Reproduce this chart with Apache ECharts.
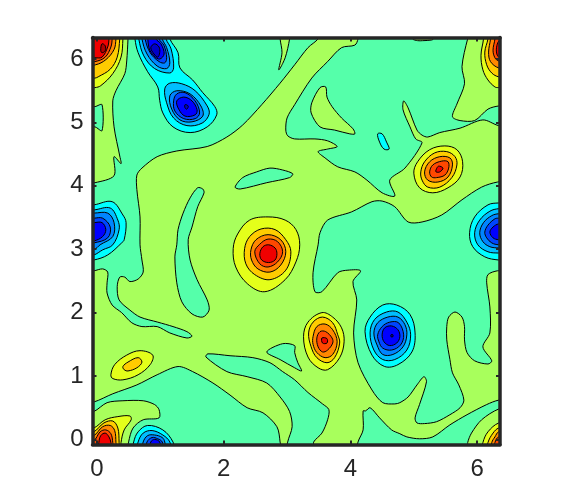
<!DOCTYPE html>
<html>
<head>
<meta charset="utf-8">
<style>html,body{margin:0;background:#fff}#chart{width:573px;height:500px}</style>
<script src="https://cdn.jsdelivr.net/npm/echarts@6/dist/echarts.min.js"></script>
</head>
<body>
<div id="chart"></div>
<script>
const xTicks = [0, 2, 4, 6];
const yTicks = [0, 1, 2, 3, 4, 5, 6];

// aqua areas on the lime background, [x, y]
const aquaLeft = [[.49,6.46],[3.53,6.46],[3.49,6.32],[3.33,6.18],[3.12,5.91],[2.89,5.62],[2.60,5.28],[2.30,4.96],[2.05,4.77],[1.74,4.62],[1.26,4.55],[.95,4.46],[.71,4.28],[.63,4.17],[.63,3.94],[.68,3.51],[.68,3.07],[.71,2.83],[.73,2.64],[.65,2.53],[.52,2.49],[.44,2.56],[.36,2.56],[.32,2.41],[.35,2.20],[.52,2.04],[.68,1.93],[.96,1.85],[1.20,1.78],[1.42,1.70],[1.50,1.63],[1.42,1.60],[1.15,1.68],[.95,1.78],[.71,1.78],[.55,1.84],[.39,2.00],[.24,2.12],[.16,2.31],[.16,2.47],[.17,2.64],[.09,2.69],[-.05,2.66],[-.19,2.66],[-.19,4.05],[-.03,4.05],[.27,4.16],[.27,4.46],[.38,4.35],[.36,4.47],[.27,4.93],[.25,5.34],[.30,5.50],[.44,5.77],[.47,5.97],[.49,6.32]];
const aquaNotch = [[-.19,5.25],[-.03,5.25],[.08,5.28],[.08,4.87],[-.03,4.93],[-.19,4.93]];
const aquaTop = [[4.12,6.46],[5.91,6.46],[5.85,6.32],[5.76,5.88],[5.80,5.61],[5.68,5.29],[5.61,5.09],[5.73,5.03],[5.96,5.03],[6.17,5.21],[6.34,5.26],[6.51,5.26],[6.51,4.96],[6.34,4.95],[6.09,5.04],[5.73,4.91],[5.41,4.84],[5.22,4.77],[5.13,4.80],[5.05,4.88],[4.91,5.23],[4.84,5.34],[4.83,5.20],[4.94,4.93],[5.03,4.74],[5.13,4.68],[4.86,4.28],[4.62,4.09],[4.70,3.84],[4.50,3.89],[4.26,4.09],[4.07,4.22],[3.80,4.30],[3.60,4.44],[3.49,4.54],[3.64,4.58],[3.79,4.62],[3.64,4.71],[3.44,4.74],[3.12,4.74],[3.01,4.79],[2.98,4.88],[3.00,5.07],[3.12,5.28],[3.39,5.70],[3.64,5.96],[3.86,6.18],[4.07,6.22],[4.12,6.32]];
const aquaRight = [[3.49,3.07],[3.52,3.26],[3.64,3.46],[4.02,3.59],[4.34,3.75],[4.50,3.76],[4.70,3.67],[4.91,3.43],[5.13,3.43],[5.44,3.54],[5.76,3.78],[6.07,3.98],[6.32,4.06],[6.51,4.06],[6.51,2.66],[6.32,2.66],[6.17,2.60],[6.15,2.47],[6.20,2.09],[6.20,1.68],[6.09,1.46],[6.23,1.24],[6.17,1.19],[5.96,1.24],[5.84,1.37],[5.80,1.57],[5.80,1.78],[5.76,1.93],[5.65,2.01],[5.55,1.93],[5.52,1.78],[5.52,1.57],[5.57,1.26],[5.61,1.05],[5.71,.86],[5.79,.62],[5.73,.50],[5.57,.39],[5.36,.28],[5.17,.25],[5.05,.26],[5.02,.34],[5.09,.55],[5.20,.91],[5.16,.99],[5.05,.86],[4.91,.67],[4.78,.58],[4.70,.56],[4.51,.58],[4.34,.78],[4.12,1.21],[4.05,1.68],[4.10,2.20],[4.04,2.49],[4.16,2.66],[3.96,2.67],[3.80,2.63],[3.55,2.33],[3.44,2.33],[3.41,2.63]];
const aquaBottomRight = [[4.12,-.16],[4.12,-.04],[4.20,.15],[4.20,.45],[4.24,.45],[4.31,.50],[4.46,.34],[4.65,.15],[4.78,.09],[4.89,.04],[5.09,.01],[5.30,.04],[5.57,.23],[5.84,.39],[6.15,.55],[6.34,.62],[6.51,.62],[6.51,.48],[6.34,.48],[6.07,.31],[5.91,.10],[5.85,-.05],[5.85,-.16]];
const aquaBottomMid = [[1.72,1.30],[1.75,1.35],[2.10,1.32],[2.46,1.29],[2.73,1.21],[2.93,1.07],[3.12,.94],[3.33,.74],[3.56,.56],[3.66,.47],[3.64,.31],[3.55,.10],[3.42,-.04],[3.42,-.16],[3.01,-.16],[3.01,-.04],[3.08,.20],[3.04,.44],[2.89,.67],[2.68,.89],[2.37,.99],[2.05,1.07]];
const aquaWedge = [[2.68,1.38],[2.93,1.51],[3.12,1.48],[3.12,1.37],[3.17,1.21],[3.23,1.08],[3.12,1.13],[2.89,1.26]];
const aquaBottomLeft = [[-.19,.59],[-.05,.59],[.25,.72],[.63,.86],[.95,1.02],[1.28,1.15],[1.51,1.07],[1.83,.89],[2.10,.70],[2.37,.50],[2.62,.42],[2.84,.20],[2.89,-.04],[2.89,-.16],[.50,-.16],[.50,-.04],[.57,.18],[.73,.31],[.98,.34],[.98,.47],[.91,.55],[.73,.61],[.41,.61],[.16,.58],[-.05,.44],[-.19,.44]];
const aquaFinger = [[1.67,3.95],[1.59,3.97],[1.47,3.81],[1.36,3.57],[1.28,3.31],[1.26,3.07],[1.23,2.88],[1.26,2.47],[1.34,2.17],[1.50,1.98],[1.67,1.93],[1.77,2.04],[1.74,2.20],[1.58,2.52],[1.47,2.83],[1.44,3.15],[1.50,3.35],[1.59,3.67],[1.69,3.89]];
const aquaSlit = [[2.18,3.98],[2.30,4.13],[2.52,4.22],[2.73,4.28],[2.93,4.25],[3.09,4.19],[3.04,4.13],[2.68,4.05],[2.26,3.95]];

// lime islands inside the aqua
const limeSpike = [[2.89,6.46],[2.89,6.32],[2.92,6.10],[2.87,5.83],[2.97,6.02],[3.04,6.32],[3.04,6.46]];
const limeIsland = [[3.61,5.56],[3.52,5.55],[3.39,5.31],[3.38,5.15],[3.52,4.93],[3.75,4.88],[3.99,4.82],[4.07,4.82],[4.04,4.90],[3.86,5.07],[3.71,5.25],[3.63,5.40]];
const limeSliver = [[4.98,6.46],[4.98,6.32],[5.06,6.29],[5.14,6.29],[5.28,6.30],[5.31,6.32],[5.31,6.46]];
const cyanSpot = [[4.43,4.82],[4.50,4.82],[4.57,4.69],[4.61,4.58],[4.53,4.58],[4.46,4.69]];

// blue double peak, top left
const doubleCyan = [[.60,6.46],[.60,6.32],[.65,6.10],[.80,5.80],[.96,5.56],[.99,5.35],[1.04,5.15],[1.20,4.93],[1.47,4.84],[1.74,4.93],[1.89,5.12],[1.86,5.25],[1.67,5.47],[1.51,5.67],[1.31,5.86],[1.28,6.10],[1.15,6.32],[1.15,6.46]];
const topSky = [[.66,6.46],[.66,6.32],[.74,6.05],[.91,5.85],[1.15,5.78],[1.21,5.86],[1.17,6.16],[1.09,6.32],[1.09,6.46]];
const topAzure = [[.71,6.46],[.71,6.32],[.79,6.08],[.95,5.89],[1.10,5.85],[1.15,5.94],[1.10,6.18],[1.03,6.32],[1.03,6.46]];
const topRoyal = [[.76,6.46],[.76,6.32],[.84,6.10],[.98,5.96],[1.07,5.94],[1.10,6.02],[1.06,6.21],[.98,6.32],[.98,6.46]];
const topBlue = [[.82,6.46],[.82,6.18],[.90,6.05],[.99,6.00],[1.06,6.08],[1.01,6.24],[.93,6.32],[.93,6.46]];
const topNavy = [[.85,6.18],[.90,6.08],[.96,6.03],[.99,6.10],[.98,6.19],[.91,6.24]];
const lowerSky = [[1.15,5.62],[1.07,5.53],[1.10,5.31],[1.21,5.07],[1.42,4.95],[1.66,4.99],[1.77,5.13],[1.74,5.26],[1.55,5.50],[1.34,5.61]];
const lowerAzure = [[1.26,5.50],[1.15,5.42],[1.18,5.21],[1.31,5.04],[1.50,5.01],[1.67,5.10],[1.64,5.26],[1.47,5.45]];
const lowerRoyal = [[1.26,5.45],[1.21,5.34],[1.23,5.18],[1.37,5.06],[1.55,5.06],[1.62,5.15],[1.55,5.34],[1.39,5.47]];
const lowerBlue = [[1.37,5.40],[1.26,5.34],[1.29,5.21],[1.39,5.10],[1.55,5.12],[1.58,5.20],[1.50,5.34]];
const lowerNavy = [[1.39,5.28],[1.44,5.26],[1.42,5.21],[1.39,5.23]];

// warm peak in the middle
const midYellow = [[2.15,3.01],[2.22,3.24],[2.41,3.46],[2.70,3.51],[2.97,3.46],[3.14,3.31],[3.20,3.07],[3.14,2.80],[2.97,2.52],[2.65,2.33],[2.38,2.45],[2.19,2.72]];
const midGold = [[2.33,3.01],[2.41,3.20],[2.59,3.32],[2.81,3.31],[2.98,3.15],[3.06,2.96],[2.98,2.67],[2.73,2.52],[2.49,2.60],[2.35,2.77]];
const midOrange = [[2.43,2.99],[2.51,3.15],[2.70,3.23],[2.90,3.15],[2.98,2.96],[2.90,2.75],[2.73,2.64],[2.54,2.69],[2.44,2.83]];
const midFlame = [[2.49,2.96],[2.57,3.08],[2.70,3.16],[2.85,3.12],[2.93,2.96],[2.85,2.80],[2.70,2.72],[2.57,2.77]];
const midRed = [[2.57,2.93],[2.62,3.04],[2.71,3.07],[2.81,3.02],[2.84,2.93],[2.81,2.83],[2.71,2.79],[2.60,2.83]];

// warm peak at 3.55, 1.55
const smallYellow = [[3.26,1.62],[3.33,1.85],[3.55,2.00],[3.72,1.93],[3.86,1.76],[3.90,1.54],[3.83,1.29],[3.64,1.10],[3.49,1.13],[3.33,1.30]];
const smallGold = [[3.34,1.68],[3.41,1.85],[3.56,1.93],[3.72,1.84],[3.80,1.65],[3.83,1.52],[3.75,1.29],[3.63,1.21],[3.47,1.29],[3.38,1.46]];
const smallOrange = [[3.41,1.62],[3.47,1.78],[3.60,1.82],[3.72,1.73],[3.79,1.54],[3.72,1.34],[3.60,1.29],[3.47,1.37],[3.41,1.50]];
const smallFlame = [[3.47,1.60],[3.52,1.70],[3.61,1.70],[3.71,1.60],[3.72,1.52],[3.64,1.41],[3.56,1.38],[3.49,1.46]];
const smallRed = [[3.55,1.60],[3.63,1.59],[3.63,1.52],[3.56,1.52]];

// blue peak at 4.65, 1.65
const roundCyan = [[4.23,1.70],[4.31,1.93],[4.51,2.12],[4.73,2.12],[4.94,1.97],[5.02,1.68],[4.97,1.38],[4.75,1.18],[4.54,1.15],[4.34,1.33]];
const roundSky = [[4.31,1.68],[4.38,1.89],[4.57,2.01],[4.75,2.01],[4.89,1.85],[4.95,1.65],[4.89,1.41],[4.70,1.26],[4.51,1.26],[4.37,1.41]];
const roundAzure = [[4.37,1.68],[4.43,1.84],[4.59,1.93],[4.75,1.93],[4.86,1.81],[4.89,1.65],[4.83,1.46],[4.67,1.34],[4.51,1.34],[4.42,1.49]];
const roundRoyal = [[4.43,1.65],[4.50,1.78],[4.62,1.85],[4.76,1.84],[4.84,1.65],[4.79,1.49],[4.65,1.41],[4.51,1.44],[4.45,1.54]];
const roundBlue = [[4.50,1.65],[4.54,1.76],[4.65,1.79],[4.75,1.73],[4.78,1.62],[4.73,1.52],[4.62,1.48],[4.53,1.54]];
const roundNavy = [[4.64,1.65],[4.67,1.65],[4.67,1.62],[4.64,1.62]];

// warm peak at 5.35, 4.3
const eastYellow = [[5.00,4.20],[5.06,4.38],[5.25,4.57],[5.49,4.63],[5.68,4.57],[5.77,4.38],[5.73,4.14],[5.54,3.97],[5.30,3.89],[5.09,3.97]];
const eastGold = [[5.11,4.22],[5.17,4.38],[5.33,4.52],[5.52,4.54],[5.65,4.46],[5.68,4.33],[5.60,4.13],[5.41,3.98],[5.22,3.98],[5.13,4.09]];
const eastOrange = [[5.17,4.22],[5.25,4.38],[5.41,4.46],[5.57,4.44],[5.61,4.33],[5.54,4.14],[5.38,4.06],[5.22,4.09]];
const eastFlame = [[5.25,4.22],[5.30,4.33],[5.44,4.39],[5.54,4.38],[5.55,4.28],[5.49,4.17],[5.36,4.13],[5.28,4.14]];
const eastRed = [[5.35,4.25],[5.39,4.31],[5.46,4.28],[5.41,4.22],[5.35,4.22]];

// blue peak cut by the right edge
const rightCyan = [[5.88,3.26],[5.96,3.51],[6.17,3.70],[6.34,3.73],[6.51,3.73],[6.51,2.83],[6.34,2.83],[6.12,2.88],[5.93,3.04]];
const rightSky = [[5.96,3.26],[6.04,3.46],[6.20,3.60],[6.34,3.64],[6.51,3.64],[6.51,2.94],[6.34,2.94],[6.17,2.96],[6.01,3.07]];
const rightAzure = [[6.04,3.26],[6.10,3.42],[6.23,3.53],[6.34,3.56],[6.51,3.56],[6.51,3.02],[6.34,3.02],[6.20,3.04],[6.09,3.12]];
const rightRoyal = [[6.12,3.27],[6.17,3.38],[6.28,3.48],[6.34,3.49],[6.51,3.49],[6.51,3.07],[6.34,3.07],[6.23,3.10],[6.15,3.18]];
const rightBlue = [[6.20,3.27],[6.25,3.35],[6.34,3.40],[6.51,3.40],[6.51,3.15],[6.34,3.15],[6.25,3.18]];

// blue peak cut by the left edge
const leftCyan = [[-.19,3.70],[-.05,3.70],[.24,3.75],[.41,3.54],[.46,3.42],[.43,3.15],[.39,3.10],[.17,2.91],[-.05,2.83],[-.19,2.83]];
const leftSky = [[-.19,3.62],[-.05,3.62],[.21,3.65],[.33,3.46],[.35,3.31],[.25,3.07],[.09,2.99],[-.05,2.91],[-.19,2.91]];
const leftAzure = [[-.19,3.57],[-.05,3.57],[.17,3.57],[.27,3.42],[.25,3.20],[.05,3.07],[-.05,2.99],[-.19,2.99]];
const leftRoyal = [[-.19,3.49],[-.05,3.49],[.09,3.49],[.21,3.35],[.17,3.18],[-.05,3.10],[-.19,3.10]];
const leftBlue = [[-.19,3.42],[-.05,3.42],[.08,3.42],[.14,3.31],[.09,3.20],[-.05,3.13],[-.19,3.13]];

// warm peak in the top left corner
const nwYellow = [[.41,6.46],[.41,6.32],[.38,6.03],[.25,5.77],[.06,5.58],[-.03,5.55],[-.19,5.55],[-.19,6.46]];
const nwGold = [[.36,6.46],[.36,6.32],[.32,6.03],[.21,5.84],[.02,5.72],[-.03,5.70],[-.19,5.70],[-.19,6.46]];
const nwOrange = [[.30,6.46],[.30,6.32],[.27,6.15],[.14,5.99],[-.02,5.91],[-.19,5.91],[-.19,6.46]];
const nwFlame = [[.24,6.46],[.24,6.32],[.22,6.19],[.13,6.03],[-.03,5.96],[-.19,5.96],[-.19,6.46]];
const nwRed = [[.19,6.46],[.19,6.32],[.17,6.19],[.08,6.03],[-.03,6.02],[-.19,6.02],[-.19,6.46]];
const nwDark = [[.08,6.24],[.13,6.21],[.13,6.13],[.08,6.10],[.06,6.14]];

// warm peak in the top right corner
const neYellow = [[6.10,6.46],[6.10,6.32],[6.06,6.06],[6.09,5.83],[6.17,5.67],[6.28,5.56],[6.34,5.55],[6.51,5.55],[6.51,6.46]];
const neGold = [[6.17,6.46],[6.17,6.32],[6.12,6.11],[6.15,5.91],[6.23,5.78],[6.34,5.72],[6.51,5.72],[6.51,6.46]];
const neOrange = [[6.21,6.46],[6.21,6.32],[6.18,6.11],[6.21,5.96],[6.34,5.86],[6.51,5.86],[6.51,6.46]];
const neFlame = [[6.28,6.46],[6.28,6.32],[6.25,6.14],[6.28,6.02],[6.34,5.97],[6.51,5.97],[6.51,6.46]];
const neRed = [[6.36,6.30],[6.31,6.21],[6.31,6.08],[6.36,6.02],[6.51,6.02],[6.51,6.30]];

// warm peak in the bottom left corner
const swYellow = [[-.19,.18],[-.05,.18],[.13,.31],[.33,.36],[.52,.37],[.54,.31],[.43,.15],[.38,-.05],[.38,-.16],[-.19,-.16]];
const swGold = [[-.19,.12],[-.05,.12],[.11,.26],[.25,.29],[.33,.18],[.35,-.05],[.35,-.16],[-.19,-.16]];
const swOrange = [[-.19,.06],[-.05,.06],[.09,.20],[.21,.22],[.28,.14],[.30,-.05],[.30,-.16],[-.19,-.16]];
const swFlame = [[-.19,-.02],[-.05,-.02],[.05,.12],[.14,.15],[.22,.09],[.25,-.05],[.25,-.16],[-.19,-.16]];
const swRed = [[.03,-.16],[.03,-.05],[.06,.06],[.13,.10],[.19,.04],[.22,-.05],[.22,-.16]];

// blue peak on the bottom edge
const southCyan = [[.58,-.16],[.58,-.04],[.65,.12],[.80,.22],[1.04,.15],[1.20,-.04],[1.20,-.16]];
const southSky = [[.65,-.16],[.65,-.04],[.73,.10],[.87,.14],[1.04,.07],[1.15,-.04],[1.15,-.16]];
const southAzure = [[.73,-.16],[.73,-.04],[.80,.06],[.91,.07],[1.03,.03],[1.07,-.04],[1.07,-.16]];
const southRoyal = [[.79,-.16],[.79,-.04],[.87,.03],[.96,.01],[1.03,-.04],[1.03,-.16]];
const southBlue = [[.85,-.16],[.85,-.04],[.91,0],[.99,-.04],[.99,-.16]];

// small yellow bump at 0.6, 1.2
const bumpYellow = [[.22,1.02],[.28,1.18],[.47,1.33],[.68,1.40],[.88,1.33],[.84,1.18],[.65,1.02],[.41,.94],[.25,.96]];
const bumpGold = [[.41,1.15],[.49,1.22],[.65,1.29],[.71,1.22],[.63,1.13],[.49,1.08],[.43,1.10]];

// warm peak in the bottom right corner
const seYellow = [[6.09,-.16],[6.09,-.05],[6.17,.12],[6.34,.26],[6.51,.26],[6.51,-.16]];
const seGold = [[6.17,-.16],[6.17,-.05],[6.25,.10],[6.34,.18],[6.51,.18],[6.51,-.16]];
const seOrange = [[6.23,-.16],[6.23,-.05],[6.28,.04],[6.34,.12],[6.51,.12],[6.51,-.16]];
const seFlame = [[6.28,-.16],[6.28,-.05],[6.34,.04],[6.51,.04],[6.51,-.16]];

const colors = {
  navy: '#0000c8', blue: '#0000ff', royal: '#0045ff', azure: '#0085ff', sky: '#00bfff', cyan: '#00ffff',
  aqua: '#55ffaa', lime: '#a8ff5c', yellow: '#e4ff1a', gold: '#ffcc00', orange: '#ff8800', flame: '#ff4800', red: '#f00000', dark: '#b00000',
};

// painted in this order, inner contours last
const layers = [
  ['aqua', aquaLeft], ['aqua', aquaNotch], ['aqua', aquaTop], ['aqua', aquaRight], ['aqua', aquaBottomRight],
  ['aqua', aquaBottomMid], ['aqua', aquaWedge], ['aqua', aquaBottomLeft], ['aqua', aquaFinger], ['aqua', aquaSlit],
  ['lime', limeSpike], ['lime', limeIsland], ['lime', limeSliver], ['cyan', cyanSpot],
  ['cyan', doubleCyan], ['sky', topSky], ['azure', topAzure], ['royal', topRoyal], ['blue', topBlue], ['navy', topNavy],
  ['sky', lowerSky], ['azure', lowerAzure], ['royal', lowerRoyal], ['blue', lowerBlue], ['navy', lowerNavy],
  ['yellow', midYellow], ['gold', midGold], ['orange', midOrange], ['flame', midFlame], ['red', midRed],
  ['yellow', smallYellow], ['gold', smallGold], ['orange', smallOrange], ['flame', smallFlame], ['red', smallRed],
  ['cyan', roundCyan], ['sky', roundSky], ['azure', roundAzure], ['royal', roundRoyal], ['blue', roundBlue], ['navy', roundNavy],
  ['yellow', eastYellow], ['gold', eastGold], ['orange', eastOrange], ['flame', eastFlame], ['red', eastRed],
  ['cyan', rightCyan], ['sky', rightSky], ['azure', rightAzure], ['royal', rightRoyal], ['blue', rightBlue],
  ['cyan', leftCyan], ['sky', leftSky], ['azure', leftAzure], ['royal', leftRoyal], ['blue', leftBlue],
  ['yellow', nwYellow], ['gold', nwGold], ['orange', nwOrange], ['flame', nwFlame], ['red', nwRed], ['dark', nwDark],
  ['yellow', neYellow], ['gold', neGold], ['orange', neOrange], ['flame', neFlame], ['red', neRed],
  ['yellow', swYellow], ['gold', swGold], ['orange', swOrange], ['flame', swFlame], ['red', swRed],
  ['cyan', southCyan], ['sky', southSky], ['azure', southAzure], ['royal', southRoyal], ['blue', southBlue],
  ['yellow', bumpYellow], ['gold', bumpGold],
  ['yellow', seYellow], ['gold', seGold], ['orange', seOrange], ['flame', seFlame],
];

const frameColor = '#262626';

const makeAxis = (position, min, max, ticks, labelMargin, labelPadding = 0) => ({
  type: 'value',
  position,
  min,
  max,
  z: 10,
  splitLine: { show: false },
  axisLine: { show: true, onZero: false, lineStyle: { color: frameColor, width: 3.5 } },
  axisTick: { show: true, inside: true, length: 4, customValues: ticks, lineStyle: { color: frameColor, width: 2 } },
  axisLabel: {
    show: labelMargin > 0,
    customValues: ticks,
    color: frameColor,
    fontFamily: 'Liberation Sans',
    fontSize: 24,
    margin: labelMargin,
    padding: labelPadding,
  },
});

const chart = echarts.init(document.getElementById('chart'), null, { renderer: 'canvas' });
chart.setOption({
  animation: false,
  backgroundColor: '#fff',
  grid: { left: 92.5, right: 73, top: 37.5, bottom: 55.5, show: true, backgroundColor: colors.lime, borderWidth: 0 },
  xAxis: [makeAxis('bottom', -0.07, 6.36, xTicks, 13), makeAxis('top', -0.07, 6.36, xTicks, 0)],
  yAxis: [makeAxis('left', -0.08, 6.34, yTicks, 9, [5, 0, 0, 0]), makeAxis('right', -0.08, 6.34, yTicks, 0)],
  series: [{
    type: 'custom',
    clip: true,
    silent: true,
    data: layers.map((layer, i) => [i]),
    renderItem: (params, api) => {
      const [level, points] = layers[params.dataIndex];
      // the traced areas have cusps, the peaks are round
      const isArea = level === 'aqua' || level === 'lime';
      return {
        type: 'polygon',
        shape: { points: points.map((p) => api.coord(p)), smooth: isArea ? 0.3 : 0.36 },
        style: { fill: colors[level], stroke: '#000', lineWidth: 1 },
      };
    },
  }],
});
</script>
</body>
</html>
